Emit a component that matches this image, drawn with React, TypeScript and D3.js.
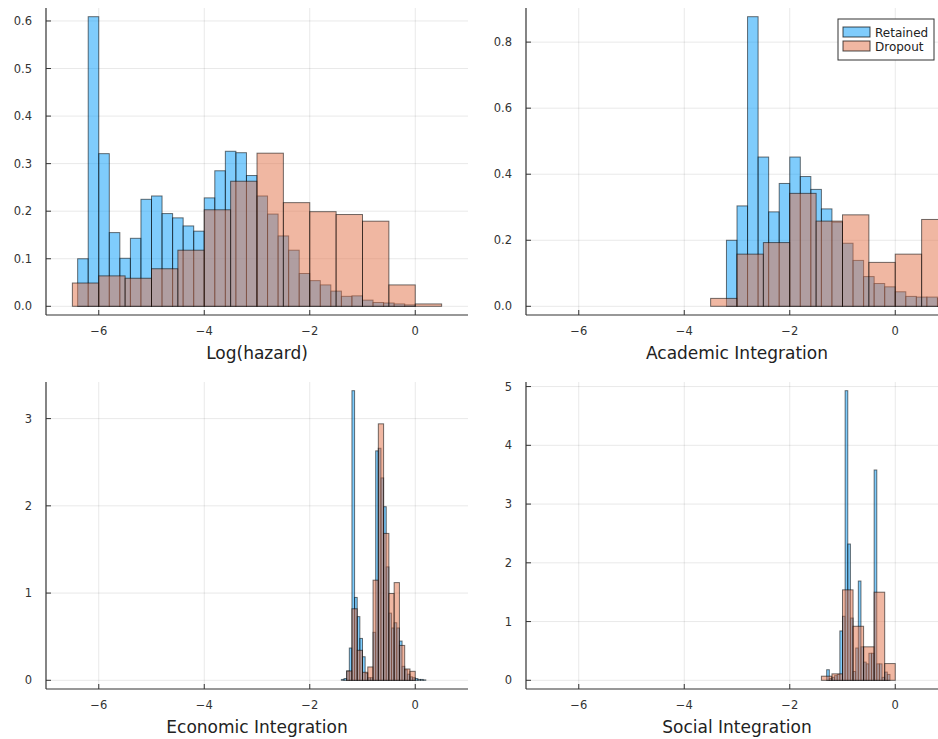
import React from "react";
import * as d3 from "d3";

// histogram heights (density)
// Log(hazard)
const retainedHazard = [0.100, 0.609, 0.321, 0.155, 0.101, 0.143, 0.225, 0.232, 0.195, 0.186, 0.169, 0.158, 0.228, 0.285, 0.326, 0.323, 0.275, 0.232, 0.194, 0.148, 0.118, 0.069, 0.054, 0.045, 0.032, 0.021, 0.022, 0.013, 0.008, 0.007, 0.005, 0.003];
const dropoutHazard = [0.049, 0.064, 0.059, 0.079, 0.118, 0.203, 0.263, 0.322, 0.218, 0.199, 0.193, 0.179, 0.045, 0.005];

// Academic Integration
const retainedAcademic = [0.200, 0.304, 0.877, 0.452, 0.286, 0.372, 0.452, 0.393, 0.354, 0.295, 0.255, 0.191, 0.139, 0.090, 0.069, 0.059, 0.044, 0.030, 0.028, 0.028, 0.024];
const dropoutAcademic = [0.024, 0.158, 0.193, 0.342, 0.258, 0.277, 0.133, 0.158, 0.263];

// Economic Integration
const retainedEconomic = [0.01, 0.02, 0.107, 0.37, 3.32, 0.95, 0.73, 0.48, 0.27, 0.08, 0.03, 0.03, 0.55, 2.63, 2.66, 2.32, 1.99, 1.3, 0.77, 0.6, 0.66, 0.6, 0.45, 0.16, 0.12, 0.07, 0.04, 0.03, 0.02, 0.01, 0.01, 0.005];
const dropoutEconomic = [0.107, 0.82, 0.344, 0.092, 0.153, 1.148, 2.94, 1.684, 0.995, 1.12, 0.40, 0.13, 0.103];

// Social Integration
const retainedSocial = [0.18, 0.03, 0.05, 0.08, 0.1, 0.84, 1.09, 4.93, 2.32, 1.06, 0.15, 0.55, 1.69, 0.57, 0.31, 0.28, 0.46, 0.46, 3.58, 0.28, 0.28, 0.05, 0.14, 0.1];
const dropoutSocial = [0.07, 0.11, 1.54, 0.92, 0.57, 1.50, 0.285];

// bin layout: [first edge, bin width]
const retainedBins = [[-6.4, 0.2], [-3.2, 0.2], [-1.4, 0.05], [-1.3, 0.05]];
const dropoutBins = [[-6.5, 0.5], [-3.5, 0.5], [-1.3, 0.1], [-1.4, 0.2]];

const titles = ["Log(hazard)", "Academic Integration", "Economic Integration", "Social Integration"];
const yTickSets = [
  [0, 0.1, 0.2, 0.3, 0.4, 0.5, 0.6],
  [0, 0.2, 0.4, 0.6, 0.8],
  [0, 1, 2, 3],
  [0, 1, 2, 3, 4, 5],
];
const xTicks = [-6, -4, -2, 0];
const seriesNames = ["Retained", "Dropout"];

const retainedAll = [retainedHazard, retainedAcademic, retainedEconomic, retainedSocial];
const dropoutAll = [dropoutHazard, dropoutAcademic, dropoutEconomic, dropoutSocial];

const BLUE = "#009AFA";
const ORANGE = "#E26F46";
const FONT = "DejaVu Sans, sans-serif";

const W = 422;
const H = 307;
const origins = [
  [46, 8],
  [526, 8],
  [46, 382],
  [526, 382],
];

const Bars = ({ values, bin, x, y, color }) => (
  <g>
    {values.map((v, i) => {
      const x0 = bin[0] + i * bin[1];
      const x1 = x0 + bin[1];
      return (
        <rect
          key={i}
          x={x(x0)}
          y={y(v)}
          width={x(x1) - x(x0)}
          height={y(0) - y(v)}
          fill={color}
          fillOpacity={0.5}
          stroke="#000"
          strokeOpacity={0.55}
          strokeWidth={1}
        />
      );
    })}
  </g>
);

const Panel = ({ idx }) => {
  const [left, top] = origins[idx];
  const ret = retainedAll[idx];
  const drop = dropoutAll[idx];
  const m = Math.max(d3.max(ret), d3.max(drop));
  const x = d3.scaleLinear().domain([-7, 1]).range([0, W]);
  const y = d3.scaleLinear().domain([-0.03 * m, 1.03 * m]).range([H, 0]);
  const fmt = idx < 2 ? d3.format(".1f") : d3.format("d");
  const clipId = `clip-${idx}`;

  return (
    <g transform={`translate(${left},${top})`}>
      <clipPath id={clipId}>
        <rect x={0} y={0} width={W} height={H} />
      </clipPath>
      {/* grid */}
      {xTicks.map((t) => (
        <line key={`gx${t}`} x1={x(t)} x2={x(t)} y1={0} y2={H} stroke="#000" strokeOpacity={0.09} />
      ))}
      {yTickSets[idx].map((t) => (
        <line key={`gy${t}`} x1={0} x2={W} y1={y(t)} y2={y(t)} stroke="#000" strokeOpacity={0.09} />
      ))}
      <g clipPath={`url(#${clipId})`}>
        <Bars values={ret} bin={retainedBins[idx]} x={x} y={y} color={BLUE} />
        <Bars values={drop} bin={dropoutBins[idx]} x={x} y={y} color={ORANGE} />
      </g>
      {/* axes */}
      <line x1={0} x2={W} y1={H} y2={H} stroke="#333" strokeWidth={1.2} />
      <line x1={0} x2={0} y1={0} y2={H} stroke="#333" strokeWidth={1.2} />
      {xTicks.map((t) => (
        <g key={`tx${t}`}>
          <line x1={x(t)} x2={x(t)} y1={H} y2={H - 5} stroke="#333" />
          <text x={x(t)} y={H + 20} textAnchor="middle" fontSize={11.5} fontFamily={FONT} fill="#333">
            {t < 0 ? `\u2212${-t}` : t}
          </text>
        </g>
      ))}
      {yTickSets[idx].map((t) => (
        <g key={`ty${t}`}>
          <line x1={0} x2={5} y1={y(t)} y2={y(t)} stroke="#333" />
          <text x={-14} y={y(t)} dy="0.35em" textAnchor="end" fontSize={11.5} fontFamily={FONT} fill="#333">
            {fmt(t)}
          </text>
        </g>
      ))}
      <text x={W / 2} y={H + 44} textAnchor="middle" fontSize={17} fontFamily={FONT} fill="#222">
        {titles[idx]}
      </text>
    </g>
  );
};

const Legend = () => (
  <g transform="translate(838,19)">
    <rect x={0} y={0} width={96} height={41} fill="#fff" stroke="#333" strokeWidth={1} />
    {seriesNames.map((name, i) => (
      <g key={name} transform={`translate(5,${8 + i * 14})`}>
        <rect x={0} y={0} width={27} height={10} fill={i === 0 ? BLUE : ORANGE} fillOpacity={0.5} stroke="#000" strokeOpacity={0.7} />
        <text x={32} y={10} fontSize={12} fontFamily={FONT} fill="#222">
          {name}
        </text>
      </g>
    ))}
  </g>
);

export default function App() {
  return (
    <svg
      width={938}
      height={739}
      style={{ position: "absolute", left: 0, top: 0, background: "#fff" }}
    >
      {[0, 1, 2, 3].map((i) => (
        <Panel key={i} idx={i} />
      ))}
      <Legend />
    </svg>
  );
}
